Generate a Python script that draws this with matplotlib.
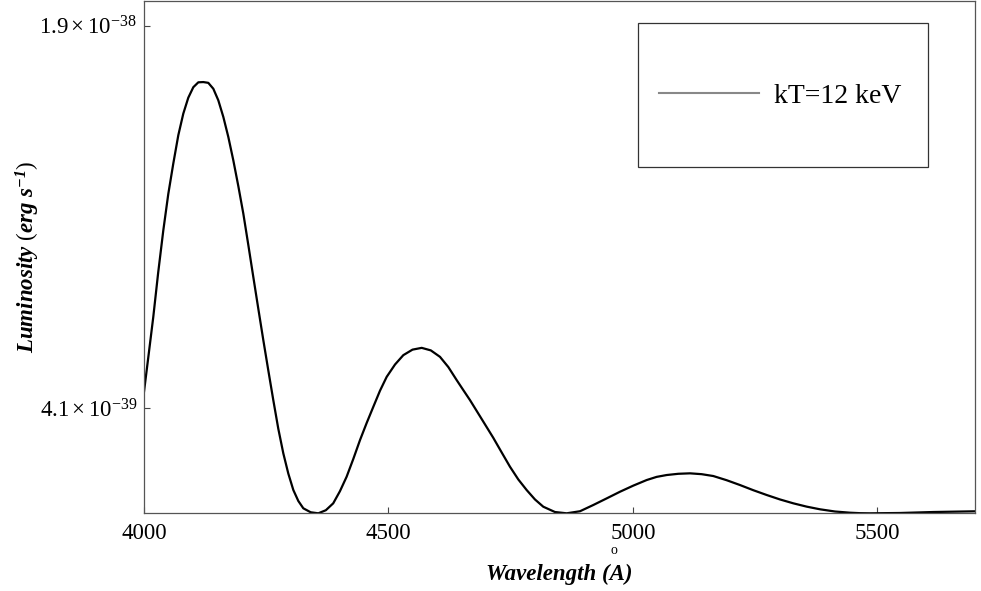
import matplotlib
matplotlib.use('Agg')
import matplotlib.pyplot as plt
from matplotlib.lines import Line2D
from matplotlib.patches import Rectangle

plt.rcParams['font.family'] = ['Liberation Serif', 'DejaVu Serif']
plt.rcParams['mathtext.fontset'] = 'custom'
plt.rcParams['mathtext.rm'] = 'Liberation Serif'
plt.rcParams['mathtext.it'] = 'Liberation Serif:italic'
plt.rcParams['mathtext.bf'] = 'Liberation Serif:bold'
plt.rcParams['mathtext.bfit'] = 'Liberation Serif:italic:bold'

# wavelength (Angstrom) and luminosity (units of 1e-39 erg/s)
wavelength = [4000, 4009.5, 4019, 4029, 4039.5, 4049.7, 4059.9, 4070.2, 4080.4,
              4090.6, 4100.9, 4111.1, 4121.3, 4131.5, 4141.8, 4152, 4162.3,
              4172.5, 4182.7, 4193, 4203.2, 4213.4, 4223.6, 4233.8, 4244.1,
              4254.3, 4264.5, 4274.7, 4285.0, 4295.2, 4305.5, 4315.7, 4325.9,
              4341, 4356.6, 4372, 4387.1, 4400.8, 4414.5, 4428.2, 4441.9,
              4455.5, 4469.1, 4482.8, 4496.5, 4513.5, 4530.5, 4549.3, 4568.1,
              4586.8, 4605.5, 4622.6, 4639.7, 4653.3, 4666.9, 4690, 4714.3,
              4731.5, 4748.7, 4765.7, 4782.8, 4799.8, 4816.8, 4840.7, 4864.7,
              4891.9, 4919.1, 4946.4, 4973.8, 5001.1, 5028.4, 5048.8, 5069.3,
              5093, 5117.0, 5140.8, 5164.6, 5191.9, 5219.2, 5246.5, 5273.9,
              5301, 5328.3, 5355.6, 5382.9, 5413.6, 5444.3, 5465, 5485.2,
              5546.6, 5614.7, 5700]
lum = [4.736, 6.19, 7.656, 9.38, 11.03, 12.45, 13.63, 14.74, 15.58,
       16.2, 16.61, 16.8, 16.81, 16.78, 16.55, 16.1, 15.45,
       14.67, 13.76, 12.75, 11.68, 10.46, 9.214, 7.98, 6.749,
       5.57, 4.412, 3.3, 2.337, 1.55, 0.907, 0.48, 0.195,
       0.04, 0.0, 0.12, 0.389, 0.86, 1.425, 2.12, 2.855,
       3.52, 4.151, 4.78, 5.32, 5.8, 6.165, 6.38, 6.449,
       6.35, 6.099, 5.7, 5.191, 4.8, 4.412, 3.70, 2.95,
       2.38, 1.815, 1.32, 0.907, 0.54, 0.257, 0.05, 0.0,
       0.08, 0.323, 0.58, 0.841, 1.08, 1.297, 1.42, 1.492,
       1.54, 1.558, 1.525, 1.453, 1.29, 1.102, 0.90, 0.713,
       0.54, 0.389, 0.26, 0.156, 0.07, 0.023, 0.005, 0.0,
       0.012, 0.05, 0.078]
lum = [v * 1e-39 for v in lum]

ytick_vals = [4.1e-39, 1.9e-38]
ytick_labels = [r'$4.1\times10^{-39}$', r'$1.9\times10^{-38}$']
xtick_vals = [4000, 4500, 5000, 5500]

fig = plt.figure(figsize=(9.81, 5.91), dpi=100)
ax = fig.add_axes([144 / 981, 77.7 / 591, 831 / 981, 512.3 / 591])

ax.plot(wavelength, lum, color='black', lw=1.6)

ax.set_xlim(4000, 5700)
ax.set_ylim(0, 1.997e-38)
ax.set_xticks(xtick_vals)
ax.set_xticklabels([str(v) for v in xtick_vals])
ax.set_yticks(ytick_vals)
ax.set_yticklabels(ytick_labels)
ax.tick_params(direction='in', length=4, width=0.8, color='#444444',
               labelsize=16.5, pad=5)
ax.tick_params(axis='x', pad=7)
for sp in ax.spines.values():
    sp.set_color('#555555')
    sp.set_linewidth(0.9)

ax.set_xlabel('Wavelength (A)', fontsize=16.5, fontweight='bold', style='italic',
              labelpad=14)
ax.set_ylabel(r'Luminosity $(\mathbfit{erg\ s}^{\mathbfit{-1}})$', fontsize=16.5,
              fontweight='bold', style='italic', labelpad=-2)
# ring over the A, set apart as in the original
fig.text(614 / 981, 1 - 551 / 591, 'o', fontsize=10, ha='center', va='center')

# legend in a plain box
ax.add_patch(Rectangle((0.5945, 0.676), 0.349, 0.281, transform=ax.transAxes,
                       fill=False, edgecolor='#333333', lw=0.9))
ax.legend(handles=[Line2D([], [], color='#888888', lw=1.5)], labels=['kT=12 keV'],
          frameon=False, fontsize=20, loc='center', bbox_to_anchor=(0.766, 0.8146),
          handlelength=3.6, handletextpad=0.55)

fig.savefig('out.png', dpi=100)
